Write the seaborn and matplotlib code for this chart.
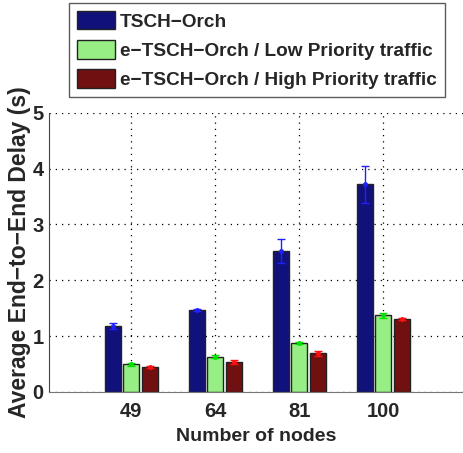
import pandas as pd
import matplotlib.pyplot as plt
import seaborn as sns

# values
nodes = ["49", "64", "81", "100"]
series = ["TSCH\u2212Orch",
          "e\u2212TSCH\u2212Orch / Low Priority traffic",
          "e\u2212TSCH\u2212Orch / High Priority traffic"]
tsch_orch = [1.18, 1.46, 2.52, 3.72]
low_prio = [0.49, 0.63, 0.88, 1.37]
high_prio = [0.45, 0.53, 0.69, 1.30]
tsch_err = [0.05, 0.02, 0.21, 0.33]
low_err = [0.02, 0.03, 0.02, 0.04]
high_err = [0.02, 0.04, 0.05, 0.02]

bar_colors = ["#00008C", "#8CFF73", "#800000"]
err_colors = ["#2020FF", "#00E000", "#FF1010"]

rows = []
for name, vals, errs in zip(series, [tsch_orch, low_prio, high_prio],
                            [tsch_err, low_err, high_err]):
    for n, v, e in zip(nodes, vals, errs):
        rows.append({"nodes": n, "series": name, "delay": v, "err": e})
df = pd.DataFrame(rows)

sns.set_style("white")
plt.rcParams["font.family"] = ["Liberation Sans", "DejaVu Sans"]
plt.rcParams["font.weight"] = "bold"

fig = plt.figure(figsize=(4.63, 4.53), dpi=100)
ax = fig.add_axes([0.106, 0.135, 0.894, 0.616])

sns.barplot(data=df, x="nodes", y="delay", hue="series", order=nodes,
            hue_order=series, palette=bar_colors, width=0.66, gap=0.14,
            errorbar=None, edgecolor="#222222", linewidth=1, ax=ax,
            legend=True)

# error bars on top of each bar, positioned from the drawn patches
for i, name in enumerate(series):
    cont = ax.containers[i]
    sub = df[df["series"] == name].set_index("nodes").loc[nodes]
    xs = [p.get_x() + p.get_width() / 2 for p in cont.patches]
    ax.errorbar(xs, sub["delay"], yerr=sub["err"], fmt=".", color=err_colors[i],
                ms=5, capsize=3, elinewidth=1, capthick=1, zorder=5)

handles, labels = ax.get_legend_handles_labels()
ax.get_legend().remove()
leg = fig.legend(handles, labels, loc="upper left",
                 bbox_to_anchor=(0.149, 0.993), frameon=True, fancybox=False,
                 fontsize=13.7, handlelength=2.0, handleheight=1.1,
                 handletextpad=0.25, labelspacing=0.5, borderpad=0.42,
                 borderaxespad=0)
leg.get_frame().set_edgecolor("#333333")
leg.get_frame().set_linewidth(1)
for t in leg.get_texts():
    t.set_fontweight("bold")

ax.set_ylim(0, 5)
ax.set_xlim(-0.976, 3.95)
ax.set_yticks([0, 1, 2, 3, 4, 5])
ax.grid(True, linestyle=(0, (1, 4)), color="black", linewidth=0.9)
ax.set_axisbelow(True)
ax.spines["top"].set_visible(False)
ax.spines["right"].set_visible(False)
ax.spines["left"].set_color("#444444")
ax.spines["bottom"].set_color("#777777")
ax.tick_params(axis="x", labelsize=14.5, length=0, pad=7)
ax.tick_params(axis="y", labelsize=14.5, length=0, pad=4)
for lbl in ax.get_xticklabels() + ax.get_yticklabels():
    lbl.set_fontweight("bold")
ax.set_xlabel("Number of nodes", fontsize=14, fontweight="bold", labelpad=5)
ax.set_ylabel("Average End\u2212to\u2212End Delay (s)", fontsize=16.5,
              fontweight="bold", labelpad=1)

fig.savefig("out.png", dpi=100)
